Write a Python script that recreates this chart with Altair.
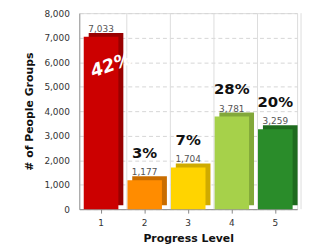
import altair as alt
import pandas as pd

levels = ["1", "2", "3", "4", "5"]
counts = [7033, 1177, 1704, 3781, 3259]
shares = ["42%", "3%", "7%", "28%", "20%"]
front_colors = ["#cc0000", "#ff8c00", "#ffd400", "#a6d14a", "#2a8c2a"]
side_colors = ["#990000", "#c96d00", "#cfab00", "#82a83a", "#1e6b1e"]
y_ticks = [0, 1000, 2000, 3000, 4000, 5000, 6000, 7000, 8000]

df = pd.DataFrame({"level": levels, "count": counts, "share": shares})

W, H = 220, 198
FONT = "DejaVu Sans"

xscale = alt.Scale(domain=levels, paddingInner=0, paddingOuter=0)
x_axis = alt.Axis(
    labelAngle=0,
    grid=False,
    domainColor="#888",
    tickColor="#888",
    tickSize=4,
    labelPadding=5,
    labelFontSize=9,
    labelColor="#333",
    titleFontSize=11,
    titleFontWeight="bold",
    titlePadding=6,
    titleColor="#111",
)
y_axis = alt.Axis(
    values=y_ticks,
    format=",.0f",
    tickSize=0,
    labelPadding=10,
    labelFontSize=9,
    labelColor="#333",
    domainColor="#999",
    gridColor="#d6d6d6",
    gridDash=[4, 3],
    titleFontSize=11,
    titleFontWeight="bold",
    titlePadding=9,
    titleColor="#111",
)
yscale = alt.Scale(domain=[0, 8000])

x_enc = alt.X("level:O", scale=xscale, title="Progress Level", axis=x_axis)
y_enc = alt.Y("count:Q", scale=yscale, title="# of People Groups", axis=y_axis)

base = alt.Chart(df)

vgrid = base.mark_rule(color="#dddddd", xOffset=4, strokeWidth=1).encode(
    x=alt.X("level:O", bandPosition=1, scale=xscale, title="Progress Level", axis=x_axis)
)

side = base.mark_bar(size=35, xOffset=5, yOffset=-4).encode(
    x=x_enc,
    y=y_enc,
    color=alt.Color("level:O", scale=alt.Scale(domain=levels, range=side_colors), legend=None),
)

front = base.mark_bar(size=35).encode(
    x=x_enc,
    y=y_enc,
    fill=alt.Fill("level:O", scale=alt.Scale(domain=levels, range=front_colors), legend=None),
)

values = base.mark_text(fontSize=9, color="#555", baseline="middle", dy=-8, font=FONT).encode(
    x=x_enc,
    y=y_enc,
    text=alt.Text("count:Q", format=",.0f"),
)

pct_above = base.transform_filter("datum.count < 5000").mark_text(
    fontSize=15, fontWeight="bold", color="#111", baseline="middle", dy=-28, font=FONT
).encode(
    x=x_enc,
    y=y_enc,
    text="share:N",
)

pct_inside = base.transform_filter("datum.count >= 5000").mark_text(
    fontSize=18, fontWeight="bold", fontStyle="italic", color="white",
    baseline="middle", dy=31, angle=340, font=FONT
).encode(
    x=x_enc,
    y=y_enc,
    text="share:N",
)

chart = (
    alt.layer(side, front, vgrid, values, pct_above, pct_inside)
    .properties(width=W, height=H, padding={"left": 16, "top": 0, "right": 4, "bottom": 0})
    .configure_view(stroke="#dddddd")
    .configure(font=FONT)
)

chart.save("out.html", embed_options={"renderer": "svg", "actions": False})
